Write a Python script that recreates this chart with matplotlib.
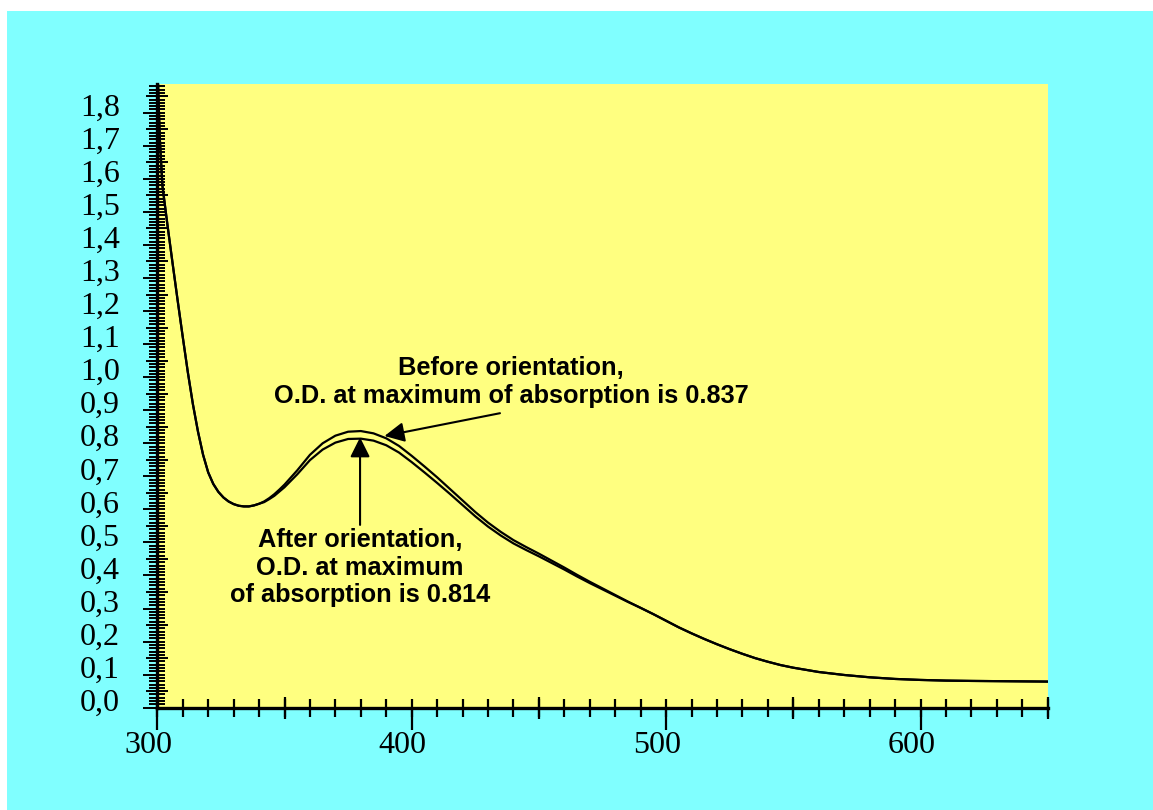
import matplotlib.pyplot as plt
import matplotlib.transforms as mtransforms
from matplotlib.patches import Rectangle
from matplotlib.ticker import MultipleLocator

# spectrum (wavelength, nm / optical density)
wavelength = [300, 301, 302, 304, 306, 308, 310, 312, 314, 316, 318, 320, 322, 324,
              326, 328, 330, 332, 334, 336, 338, 340, 342, 344, 346, 348, 350, 355,
              360, 365, 370, 375, 380, 385, 390, 395, 400, 405, 410, 415, 420, 425,
              430, 435, 440, 445, 450, 455, 460, 465, 470, 475, 480, 485, 490, 495,
              500, 505, 510, 515, 520, 525, 530, 535, 540, 545, 550, 560, 570, 580,
              590, 600, 610, 620, 635, 650]
od_before = [1.95, 1.72, 1.58, 1.46, 1.345, 1.232, 1.122, 1.015, 0.918, 0.835, 0.765,
             0.712, 0.677, 0.653, 0.636, 0.624, 0.616, 0.611, 0.609, 0.609, 0.612,
             0.617, 0.624, 0.634, 0.646, 0.660, 0.675, 0.718, 0.765, 0.800, 0.823,
             0.835, 0.837, 0.830, 0.815, 0.792, 0.762, 0.730, 0.697, 0.662, 0.627,
             0.592, 0.560, 0.532, 0.507, 0.486, 0.466, 0.445, 0.424, 0.402, 0.381,
             0.361, 0.341, 0.321, 0.302, 0.283, 0.263, 0.243, 0.225, 0.208, 0.192,
             0.177, 0.163, 0.150, 0.139, 0.129, 0.121, 0.108, 0.099, 0.092, 0.087,
             0.084, 0.082, 0.081, 0.080, 0.079]
od_after = [1.95, 1.72, 1.58, 1.46, 1.345, 1.232, 1.122, 1.015, 0.918, 0.835, 0.765,
            0.712, 0.677, 0.653, 0.636, 0.624, 0.616, 0.611, 0.609, 0.609, 0.612,
            0.617, 0.622, 0.631, 0.641, 0.654, 0.667, 0.706, 0.749, 0.781, 0.802,
            0.813, 0.814, 0.808, 0.794, 0.772, 0.743, 0.712, 0.680, 0.647, 0.613,
            0.579, 0.548, 0.521, 0.497, 0.477, 0.458, 0.438, 0.418, 0.397, 0.377,
            0.358, 0.339, 0.320, 0.302, 0.283, 0.263, 0.243, 0.225, 0.208, 0.192,
            0.177, 0.163, 0.150, 0.139, 0.129, 0.121, 0.108, 0.099, 0.092, 0.087,
            0.084, 0.082, 0.081, 0.080, 0.079]

x_ticks = [300, 400, 500, 600]
x_ticklabels = ['300', '400', '500', '600']
y_ticks = [0.0, 0.1, 0.2, 0.3, 0.4, 0.5, 0.6, 0.7, 0.8, 0.9,
           1.0, 1.1, 1.2, 1.3, 1.4, 1.5, 1.6, 1.7, 1.8]
y_ticklabels = ['0,0', '0,1', '0,2', '0,3', '0,4', '0,5', '0,6', '0,7', '0,8', '0,9',
                '1,0', '1,1', '1,2', '1,3', '1,4', '1,5', '1,6', '1,7', '1,8']

text_before = 'Before orientation,\nO.D. at maximum of absorption is 0.837'
text_after = 'After orientation,\nO.D. at maximum\nof absorption is 0.814'

W, H = 1153, 810
fig = plt.figure(figsize=(W/100, H/100), dpi=100, facecolor='white')
fig.patches.append(Rectangle((7/W, 0), 1, (H-11)/H, transform=fig.transFigure,
                             facecolor='#80FFFF', edgecolor='none', zorder=-10))

ax = fig.add_axes([157.3/W, (H-707.7)/H, (1047.7-157.3)/W, (707.7-84)/H])
ax.set_facecolor('#FFFF80')
ax.plot(wavelength, od_before, color='black', lw=1.6)
ax.plot(wavelength, od_after, color='black', lw=1.6)

ax.set_xlim(300, 650)
ax.set_ylim(0, 1.887)

for s in ['top', 'right']:
    ax.spines[s].set_visible(False)
for s in ['left', 'bottom']:
    ax.spines[s].set_linewidth(2.4)

ax.set_xticks(x_ticks)
ax.set_xticklabels(x_ticklabels, family='Liberation Serif', fontsize=23)
ax.set_yticks(y_ticks)
ax.set_yticklabels(y_ticklabels, family='Liberation Serif', fontsize=23)
ax.xaxis.set_minor_locator(MultipleLocator(10))
ax.yaxis.set_minor_locator(MultipleLocator(0.01))
ax.xaxis.remove_overlapping_locs = False
ax.yaxis.remove_overlapping_locs = False

ax.tick_params(axis='x', which='major', direction='out', length=16, width=1.6, pad=1)
ax.tick_params(axis='x', which='minor', direction='inout', length=13, width=1.6)
ax.tick_params(axis='y', which='major', direction='out', length=10, width=1.4, pad=17)
ax.tick_params(axis='y', which='minor', direction='inout', length=12, width=1.4)

# half-step ticks, a bit longer
secx = ax.secondary_xaxis('bottom')
secx.set_xticks([350, 450, 550, 650])
secx.tick_params(direction='inout', length=16, width=1.6, labelbottom=False)
secx.spines['bottom'].set_visible(False)
secy = ax.secondary_yaxis('left')
secy.set_yticks([0.05 + 0.1*i for i in range(19)])
secy.tick_params(direction='inout', length=16, width=1.4, labelleft=False)
secy.spines['left'].set_visible(False)

# labels sit a little off their ticks in the original
dy = mtransforms.ScaledTranslation(0, 0.08, fig.dpi_scale_trans)
for lab in ax.get_yticklabels():
    lab.set_transform(lab.get_transform() + dy)
dx = mtransforms.ScaledTranslation(-0.09, 0, fig.dpi_scale_trans)
for lab in ax.get_xticklabels():
    lab.set_transform(lab.get_transform() + dx)

arrow = dict(arrowstyle='-|>,head_length=0.6,head_width=0.3', color='black',
             lw=1.5, mutation_scale=20, shrinkA=0, shrinkB=0)
ax.annotate('', xy=(389.3, 0.822), xytext=(434.7, 0.891), arrowprops=arrow)
ax.annotate('', xy=(379.7, 0.818), xytext=(379.7, 0.553), arrowprops=arrow)

ax.text(439.0, 0.985, text_before, ha='center', va='center', ma='center',
        family='Liberation Sans', weight='bold', fontsize=18.3, linespacing=1.2)
ax.text(379.7, 0.424, text_after, ha='center', va='center', ma='center',
        family='Liberation Sans', weight='bold', fontsize=18.3, linespacing=1.2)

plt.savefig('out.png', dpi=100, facecolor=fig.get_facecolor())
